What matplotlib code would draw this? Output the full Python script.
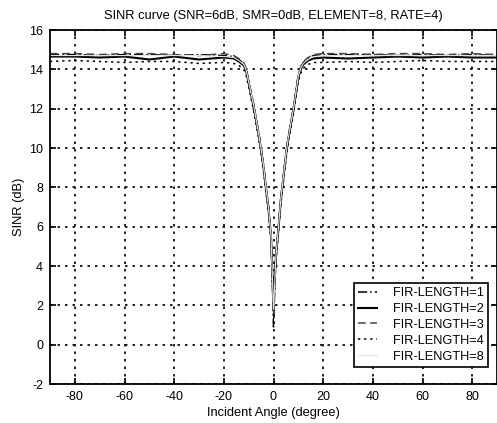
import matplotlib.pyplot as plt

plt.rcParams['font.family'] = ['Liberation Sans', 'DejaVu Sans']
plt.rcParams['axes.unicode_minus'] = False

angles = [-90, -80, -70, -60, -50, -40, -30, -20, -16, -14, -12, -11, -10, -8, -6, -5, -4, -3, -2, -1, 0,
          1, 2, 3, 4, 5, 6, 8, 10, 11, 12, 14, 16, 20, 30, 40, 50, 60, 70, 80, 90]

sinr_fir1 = [14.75, 14.75, 14.7, 14.75, 14.75, 14.7, 14.75, 14.7, 14.65, 14.5, 14.3, 14.0, 13.4, 12.2, 10.8, 10.0, 9.1, 8.0, 7.0, 5.6, 0.9,
             4.6, 6.0, 7.5, 8.6, 9.7, 10.6, 12.0, 13.7, 14.1, 14.35, 14.55, 14.7, 14.75, 14.75, 14.75, 14.7, 14.75, 14.7, 14.75, 14.7]
sinr_fir2 = [14.65, 14.65, 14.6, 14.65, 14.5, 14.65, 14.5, 14.6, 14.55, 14.4, 14.2, 13.9, 13.3, 12.1, 10.7, 9.9, 9.0, 7.9, 6.9, 5.5, 2.1,
             4.5, 5.9, 7.4, 8.5, 9.6, 10.5, 11.9, 13.6, 14.0, 14.25, 14.45, 14.55, 14.6, 14.55, 14.6, 14.65, 14.6, 14.65, 14.6, 14.6]
sinr_fir3 = [14.8, 14.8, 14.75, 14.8, 14.8, 14.75, 14.7, 14.8, 14.7, 14.55, 14.35, 14.05, 13.45, 12.25, 10.85, 10.05, 9.15, 8.05, 7.05, 5.65, 1.5,
             4.65, 6.05, 7.55, 8.65, 9.75, 10.65, 12.05, 13.75, 14.15, 14.4, 14.6, 14.75, 14.8, 14.8, 14.75, 14.8, 14.8, 14.75, 14.8, 14.75]
sinr_fir4 = [14.4, 14.45, 14.4, 14.35, 14.4, 14.4, 14.3, 14.35, 14.3, 14.2, 14.0, 13.7, 13.1, 11.9, 10.5, 9.7, 8.8, 7.7, 6.7, 5.3, 2.2,
             4.3, 5.7, 7.2, 8.3, 9.4, 10.3, 11.7, 13.4, 13.8, 14.05, 14.25, 14.35, 14.35, 14.4, 14.35, 14.4, 14.45, 14.4, 14.4, 14.4]
sinr_fir8 = [14.7, 14.7, 14.7, 14.7, 14.7, 14.7, 14.7, 14.65, 14.6, 14.45, 14.25, 13.95, 13.35, 12.15, 10.75, 9.95, 9.05, 7.95, 6.95, 5.55, 1.8,
             4.55, 5.95, 7.45, 8.55, 9.65, 10.55, 11.95, 13.65, 14.05, 14.3, 14.5, 14.65, 14.7, 14.7, 14.7, 14.7, 14.7, 14.7, 14.7, 14.7]

labels = ['FIR-LENGTH=1', 'FIR-LENGTH=2', 'FIR-LENGTH=3', 'FIR-LENGTH=4', 'FIR-LENGTH=8']
xticks = [-80, -60, -40, -20, 0, 20, 40, 60, 80]
yticks = [-2, 0, 2, 4, 6, 8, 10, 12, 14, 16]

fig = plt.figure(figsize=(4.97, 4.23), dpi=100)
ax = fig.add_axes([50 / 497, 39 / 423, 447 / 497, 354 / 423])

ax.plot(angles, sinr_fir1, color='black', linestyle=(0, (6, 2, 1, 2)), linewidth=1.1, label=labels[0])
ax.plot(angles, sinr_fir2, color='black', linestyle='-', linewidth=1.5, label=labels[1])
ax.plot(angles, sinr_fir3, color='#444444', linestyle=(0, (5, 3)), linewidth=1.1, label=labels[2])
ax.plot(angles, sinr_fir4, color='black', linestyle=(0, (1.5, 2.5)), linewidth=1.1, label=labels[3])
ax.plot(angles, sinr_fir8, color='#e4e4e4', linestyle='-', linewidth=0.8, label=labels[4])

ax.set_xlim(-90, 90)
ax.set_ylim(-2, 16)
ax.set_xticks(xticks)
ax.set_yticks(yticks)
ax.tick_params(labelsize=9, direction='in', length=4, width=1.2, top=True, right=True, pad=5)
ax.grid(True, color='black', linestyle=(0, (1.5, 3)), linewidth=1.2)
for s in ax.spines.values():
    s.set_linewidth(1.3)

ax.set_title('SINR curve (SNR=6dB, SMR=0dB, ELEMENT=8, RATE=4)', fontsize=9.3, pad=8)
ax.set_xlabel('Incident Angle (degree)', fontsize=9.3, labelpad=3)
ax.set_ylabel('SINR (dB)', fontsize=9.3, labelpad=3)

leg = ax.legend(loc='lower right', bbox_to_anchor=(0.98, 0.048), borderaxespad=0, fontsize=9.2,
                frameon=True, fancybox=False, edgecolor='black', framealpha=1, handlelength=1.5,
                borderpad=0.35, labelspacing=0.3, handletextpad=1.2)
leg.get_frame().set_linewidth(1.2)

plt.savefig('out.png', dpi=100)
